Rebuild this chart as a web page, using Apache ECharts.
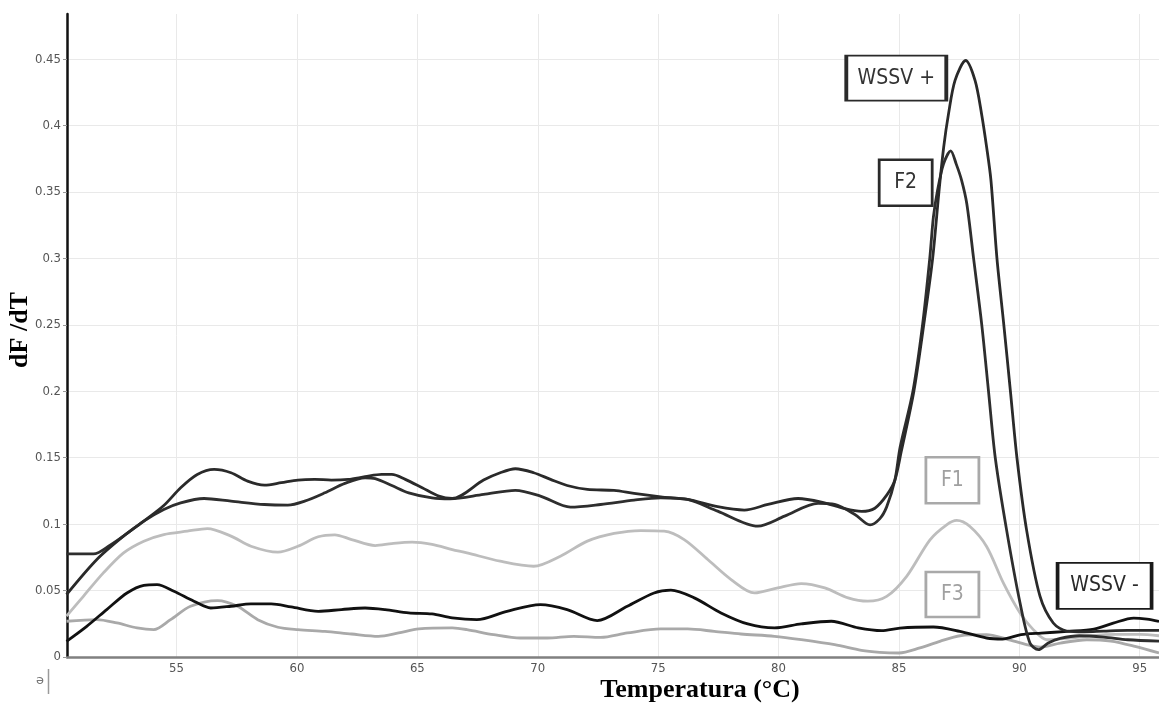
<!DOCTYPE html>
<html>
<head>
<meta charset="utf-8">
<title>dF/dT - Temperatura</title>
<script src="https://cdn.jsdelivr.net/npm/echarts@6/dist/echarts.min.js"></script>
<style>
  html, body { margin: 0; padding: 0; background: #ffffff; }
  #chart { width: 1159px; height: 708px; }
</style>
</head>
<body>
<div id="chart"></div>
<script>
// Melting curves (first derivative of fluorescence) per sample
const wssvPosT = [50.43, 51.69, 52.80, 53.64, 54.47, 55.17, 55.86, 56.56, 57.26, 57.95, 58.65, 59.35, 60.04, 60.74, 61.43, 62.13, 62.83, 63.52, 63.94, 64.5, 65.2, 65.89, 66.45, 67.75, 68.44, 69.07, 69.83, 70.53, 71.22, 72.06, 73.17, 74.0, 75.11, 76.22, 77.47, 78.58, 79.56, 80.81, 81.78, 82.75, 83.45, 84.0, 84.5, 84.83, 85.1, 85.62, 86.03, 86.4, 86.66, 86.86, 87.06, 87.33, 87.77, 88.16, 88.43, 88.64, 88.82, 89.07, 89.35, 89.63, 89.9, 90.3, 90.86, 91.41, 91.97, 92.7, 93.5, 94.5, 95.8];
const wssvPosV = [0.047, 0.0734, 0.091, 0.1023, 0.114, 0.1274, 0.1374, 0.1412, 0.1387, 0.1324, 0.1294, 0.1312, 0.1332, 0.1337, 0.1332, 0.1337, 0.1357, 0.1374, 0.1374, 0.1337, 0.1274, 0.1211, 0.1193, 0.1332, 0.1387, 0.1417, 0.1387, 0.1337, 0.1291, 0.1261, 0.1254, 0.1231, 0.1206, 0.1186, 0.1131, 0.1106, 0.1148, 0.1193, 0.1166, 0.1116, 0.1096, 0.112, 0.122, 0.133, 0.155, 0.2, 0.25, 0.3, 0.35, 0.384, 0.409, 0.434, 0.449, 0.434, 0.409, 0.384, 0.359, 0.3, 0.251, 0.2, 0.15, 0.0957, 0.0456, 0.0256, 0.0195, 0.019, 0.0195, 0.02, 0.02];

const f2T = [50.43, 51.55, 52.24, 52.94, 53.64, 54.47, 55.17, 56.14, 57.26, 58.65, 59.62, 60.32, 61.16, 61.99, 62.83, 63.25, 63.94, 64.64, 65.61, 66.36, 67.75, 69.07, 70.11, 71.36, 72.61, 74.0, 75.11, 76.22, 77.47, 79.14, 80.25, 81.64, 82.33, 83.17, 83.8, 84.2, 84.49, 84.83, 85.05, 85.58, 85.98, 86.28, 86.43, 86.6, 86.85, 87.15, 87.38, 87.6, 87.82, 88.1, 88.44, 88.72, 89.0, 89.47, 90.03, 90.44, 90.79, 91.2, 91.7, 92.5, 93.5, 94.5, 95.8];
const f2V = [0.0776, 0.0776, 0.0842, 0.093, 0.1023, 0.111, 0.116, 0.1193, 0.1173, 0.1148, 0.1143, 0.1173, 0.1236, 0.1307, 0.1349, 0.1342, 0.1291, 0.1236, 0.1198, 0.1191, 0.1224, 0.1254, 0.1211, 0.1128, 0.1148, 0.1181, 0.1198, 0.1186, 0.1098, 0.0985, 0.106, 0.1156, 0.1148, 0.1073, 0.0995, 0.104, 0.113, 0.133, 0.158, 0.2, 0.25, 0.3, 0.331, 0.351, 0.371, 0.381, 0.371, 0.359, 0.341, 0.3, 0.25, 0.2, 0.15, 0.0957, 0.0406, 0.0105, 0.0055, 0.0105, 0.014, 0.016, 0.015, 0.013, 0.012];

const f1T = [50.43, 51.13, 51.96, 52.80, 53.64, 54.47, 55.45, 56.28, 57.26, 58.09, 59.21, 60.04, 60.88, 61.57, 62.27, 63.25, 63.94, 64.78, 65.61, 66.45, 67.06, 68.44, 69.83, 70.94, 72.06, 73.17, 74.28, 75.25, 76.08, 77.06, 78.03, 79.0, 79.97, 80.94, 81.92, 82.89, 83.7, 84.49, 85.32, 86.29, 86.98, 87.4, 87.95, 88.64, 89.34, 90.03, 90.58, 91.14, 92.0, 93.0, 94.0, 95.0, 95.8];
const f1V = [0.0307, 0.0457, 0.0633, 0.0784, 0.0872, 0.0922, 0.0947, 0.0967, 0.091, 0.0834, 0.0789, 0.0834, 0.0905, 0.092, 0.0884, 0.0839, 0.0854, 0.0864, 0.0847, 0.0809, 0.0784, 0.0721, 0.0683, 0.0759, 0.0872, 0.093, 0.0952, 0.0947, 0.0884, 0.0734, 0.0583, 0.0482, 0.052, 0.0553, 0.052, 0.0445, 0.042, 0.0456, 0.0607, 0.0882, 0.0995, 0.1028, 0.0982, 0.0832, 0.0556, 0.0331, 0.0206, 0.013, 0.014, 0.016, 0.017, 0.017, 0.016];

const f3T = [50.43, 51.69, 52.52, 53.36, 54.05, 54.75, 55.58, 56.7, 57.53, 58.37, 59.21, 60.04, 61.16, 62.27, 63.38, 64.22, 65.06, 66.45, 67.06, 68.17, 69.28, 70.39, 71.5, 72.61, 73.72, 75.11, 76.22, 77.33, 78.44, 79.83, 80.94, 82.33, 83.44, 84.2, 85.0, 85.87, 86.7, 87.54, 88.64, 89.47, 90.3, 90.86, 91.7, 92.8, 93.8, 94.8, 95.8];
const f3V = [0.0269, 0.0281, 0.0256, 0.0219, 0.0206, 0.0281, 0.0382, 0.0425, 0.0382, 0.0281, 0.0224, 0.0206, 0.0193, 0.0173, 0.0156, 0.0181, 0.0211, 0.0219, 0.0206, 0.0168, 0.0143, 0.0143, 0.0156, 0.0148, 0.0181, 0.0211, 0.0211, 0.0193, 0.0173, 0.0156, 0.0131, 0.0093, 0.005, 0.0035, 0.003, 0.0068, 0.0118, 0.016, 0.0168, 0.0135, 0.0093, 0.0075, 0.0105, 0.013, 0.012, 0.008, 0.003];

const wssvNegT = [50.43, 51.27, 52.1, 52.94, 53.64, 54.19, 54.89, 55.72, 56.42, 57.26, 58.09, 58.93, 59.76, 60.88, 61.85, 62.83, 63.66, 64.64, 65.61, 66.45, 67.47, 68.72, 70.11, 71.22, 72.47, 73.72, 74.83, 75.53, 76.5, 77.61, 78.72, 79.83, 80.94, 82.19, 83.31, 84.28, 85.04, 86.43, 87.53, 88.64, 89.3, 90.07, 90.9, 92.0, 93.1, 93.9, 94.75, 95.3, 95.8];
const wssvNegV = [0.0118, 0.0231, 0.0357, 0.0482, 0.054, 0.0545, 0.0495, 0.042, 0.0369, 0.0382, 0.04, 0.04, 0.0377, 0.0344, 0.0357, 0.0369, 0.0357, 0.0332, 0.0324, 0.0294, 0.0281, 0.0344, 0.0394, 0.0357, 0.0274, 0.0382, 0.0482, 0.0503, 0.0445, 0.0332, 0.0249, 0.0219, 0.0249, 0.0269, 0.0219, 0.0198, 0.0218, 0.0226, 0.0193, 0.0143, 0.0135, 0.0168, 0.018, 0.0193, 0.021, 0.0255, 0.0293, 0.0285, 0.0268];

// Axis ticks
const xTicks = [55, 60, 65, 70, 75, 80, 85, 90, 95];
const yTicks = [0, 0.05, 0.1, 0.15, 0.2, 0.25, 0.3, 0.35, 0.4, 0.45];
const yTickLabels = ['0', '0.05', '0.1', '0.15', '0.2', '0.25', '0.3', '0.35', '0.4', '0.45'];

// Boxed sample names: [label, temperature, dF/dT] of the box centre
const tagWssvPos = ['WSSV +', 84.89, 0.4357];
const tagF2 = ['F2', 85.28, 0.357];
const tagF1 = ['F1', 87.22, 0.133];
const tagF3 = ['F3', 87.22, 0.047];
const tagWssvNeg = ['WSSV -', 93.54, 0.0535];

const zip = (t, v) => t.map((x, i) => [x, v[i]]);

const narrow = "'Liberation Sans Narrow', 'DejaVu Sans Condensed', 'Liberation Sans', sans-serif";

function boxTag(tag, w, h, border, textColor) {
  return {
    symbol: 'rect',
    symbolSize: [w, h],
    silent: true,
    data: [{ coord: [tag[1], tag[2]], value: tag[0] }],
    itemStyle: { color: '#ffffff', borderColor: border, borderWidth: 2.6 },
    label: {
      show: true,
      position: 'inside',
      formatter: '{c}',
      color: textColor,
      fontFamily: narrow,
      fontSize: 21
    }
  };
}

function curve(name, t, v, color, width, tag) {
  return {
    name: name,
    type: 'line',
    data: zip(t, v),
    smooth: 0.3,
    showSymbol: false,
    symbol: 'none',
    lineStyle: { color: color, width: width },
    z: 3,
    markPoint: tag
  };
}

const chart = echarts.init(document.getElementById('chart'), null, { renderer: 'canvas' });

chart.setOption({
  animation: false,
  backgroundColor: '#ffffff',
  grid: { left: 67, right: 0, top: 14, bottom: 51, containLabel: false },
  xAxis: {
    type: 'value',
    min: 50.45,
    max: 95.8,
    axisLine: { show: true, onZero: false, lineStyle: { color: '#808080', width: 2.5 } },
    axisTick: { show: false, customValues: xTicks },
    axisLabel: {
      customValues: xTicks,
      color: '#555555',
      fontFamily: narrow,
      fontSize: 13,
      margin: 5
    },
    splitLine: { show: true, lineStyle: { color: '#e9e9e9', width: 1 } }
  },
  yAxis: {
    type: 'value',
    min: 0,
    max: 0.484,
    axisLine: { show: true, lineStyle: { color: '#111111', width: 2.5 } },
    axisTick: { show: true, length: 4, customValues: yTicks, lineStyle: { color: '#999999' } },
    axisLabel: {
      customValues: yTicks,
      formatter: (val) => {
        const i = yTicks.findIndex(t => Math.abs(t - val) < 1e-6);
        return i >= 0 ? yTickLabels[i] : '';
      },
      color: '#555555',
      fontFamily: narrow,
      fontSize: 13,
      margin: 6
    },
    splitLine: { show: true, lineStyle: { color: '#e9e9e9', width: 1 } }
  },
  series: [
    curve('F1', f1T, f1V, '#bdbdbd', 2.8, boxTag(tagF1, 53, 46, '#a9a9a9', '#a0a0a0')),
    curve('F3', f3T, f3V, '#a9a9a9', 2.8, boxTag(tagF3, 53, 45, '#a9a9a9', '#a0a0a0')),
    curve('WSSV -', wssvNegT, wssvNegV, '#111111', 2.8, boxTag(tagWssvNeg, 94, 46, '#1a1a1a', '#2a2a2a')),
    curve('F2', f2T, f2V, '#2e2e2e', 2.8, boxTag(tagF2, 53, 46, '#2a2a2a', '#333333')),
    curve('WSSV +', wssvPosT, wssvPosV, '#2a2a2a', 2.8, boxTag(tagWssvPos, 100, 45, '#2a2a2a', '#333333'))
  ],
  graphic: [
    {
      type: 'text',
      x: 20, y: 330,
      rotation: Math.PI / 2,
      style: {
        text: 'dF /dT',
        font: "bold 26px 'Liberation Serif', 'Times New Roman', serif",
        fill: '#000000',
        align: 'center',
        verticalAlign: 'middle'
      }
    },
    {
      type: 'text',
      x: 700, y: 690,
      style: {
        text: 'Temperatura (°C)',
        font: "bold 26px 'Liberation Serif', 'Times New Roman', serif",
        fill: '#000000',
        align: 'center',
        verticalAlign: 'middle'
      }
    },
    {
      type: 'text',
      x: 40, y: 681,
      style: {
        text: 'ə',
        font: "13px 'DejaVu Sans', sans-serif",
        fill: '#777777',
        align: 'center',
        verticalAlign: 'middle'
      }
    },
    {
      type: 'line',
      shape: { x1: 48.5, y1: 669, x2: 48.5, y2: 694 },
      style: { stroke: '#9a9a9a', lineWidth: 1.5 }
    }
  ]
});
</script>
</body>
</html>
